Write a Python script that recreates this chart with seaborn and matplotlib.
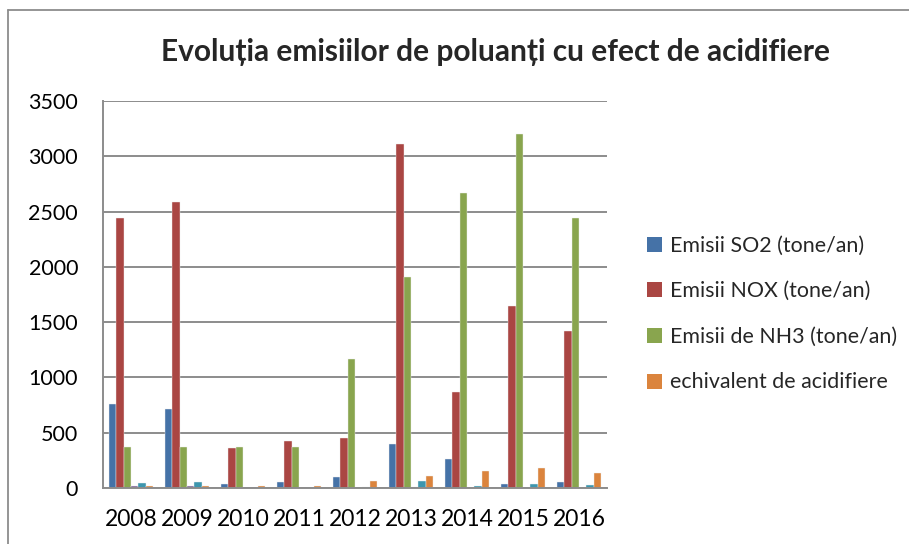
import numpy as np
import pandas as pd
import matplotlib
matplotlib.use("Agg")
import matplotlib.pyplot as plt
import seaborn as sns
from matplotlib.lines import Line2D
from matplotlib.patches import Patch

years = ["2008", "2009", "2010", "2011", "2012", "2013", "2014", "2015", "2016"]
so2 = [761, 713, 36, 57, 102, 402, 262, 36, 51]
nox = [2443, 2584, 364, 427, 454, 3115, 872, 1645, 1417]
nh3 = [370, 370, 370, 370, 1164, 1904, 2668, 3205, 2440]
extra_a = [22, 22, 2, 2, 2, 8, 2, 2, 2]
extra_b = [48, 50, 3, 3, 5, 63, 15, 33, 24]
echiv = [20, 18, 20, 18, 63, 108, 153, 183, 138]

series_names = ["Emisii SO2 (tone/an)", "Emisii NOX (tone/an)",
                "Emisii de NH3 (tone/an)", "Serie 4", "Serie 5",
                "echivalent de acidifiere"]
series_values = [so2, nox, nh3, extra_a, extra_b, echiv]
legend_names = ["Emisii SO2 (tone/an)", "Emisii NOX (tone/an)",
                "Emisii de NH3 (tone/an)", "echivalent de acidifiere"]
yticks = [0, 500, 1000, 1500, 2000, 2500, 3000, 3500]
title = "Evoluția emisiilor de poluanți cu efect de acidifiere"

colors = ["#4572A7", "#AA4643", "#89A54E", "#7E6399", "#3D96AE", "#DB843D"]

rows = []
for name, vals in zip(series_names, series_values):
    for y, v in zip(years, vals):
        rows.append({"year": y, "series": name, "value": v})
df = pd.DataFrame(rows)

sns.set_theme(style="white")
plt.rcParams['font.family'] = ['Lato', 'DejaVu Sans']

fig = plt.figure(figsize=(9.09, 5.44), dpi=100)
ax = fig.add_axes([103/909, 1-488/544, (607-103)/909, (488-101)/544])

palette = dict(zip(series_names, colors))
sns.barplot(data=df, x="year", y="value", hue="series", hue_order=series_names,
            order=years, palette=palette, width=0.8, ax=ax, legend=False,
            saturation=1, edgecolor="#eeeeee", linewidth=0.3)

ax.set_ylim(0, 3500)
ax.set_xlim(-0.5, len(years) - 0.5)
ax.set_yticks(yticks)
ax.set_yticklabels([str(t) for t in yticks], fontsize=15.5)
ax.set_xticks(range(len(years)))
ax.set_xticklabels(years, fontsize=16.5)
ax.set_xlabel("")
ax.set_ylabel("")
ax.yaxis.grid(True, color="#8c8c8c", linewidth=1.4)
ax.set_axisbelow(True)
for s in ["top", "right"]:
    ax.spines[s].set_visible(False)
for s in ["left", "bottom"]:
    ax.spines[s].set_color("#8c8c8c")
    ax.spines[s].set_linewidth(1.4)
ax.tick_params(axis="y", length=0, pad=18, colors="black")
ax.tick_params(axis="x", length=0, pad=15, colors="black")

fig.text(495/909, 1 - 52/544, title, ha="center", va="center",
         fontsize=21.5, fontweight="bold")

handles = [Patch(facecolor=palette[n], edgecolor="none") for n in legend_names]
fig.legend(handles, legend_names, loc="center left",
           bbox_to_anchor=(638/909, 1 - 314/544), frameon=False,
           fontsize=15.4, labelspacing=1.2, handlelength=0.7, handleheight=0.7,
           handletextpad=0.4, borderaxespad=0)

# outer chart border (left and top edges visible)
fig.add_artist(Line2D([8/909, 8/909], [0, 1 - 10/544], transform=fig.transFigure,
                      color="#8c8c8c", linewidth=1.3))
fig.add_artist(Line2D([8/909, 1], [1 - 10/544, 1 - 10/544], transform=fig.transFigure,
                      color="#8c8c8c", linewidth=1.3))

fig.savefig("out.png", dpi=100)
